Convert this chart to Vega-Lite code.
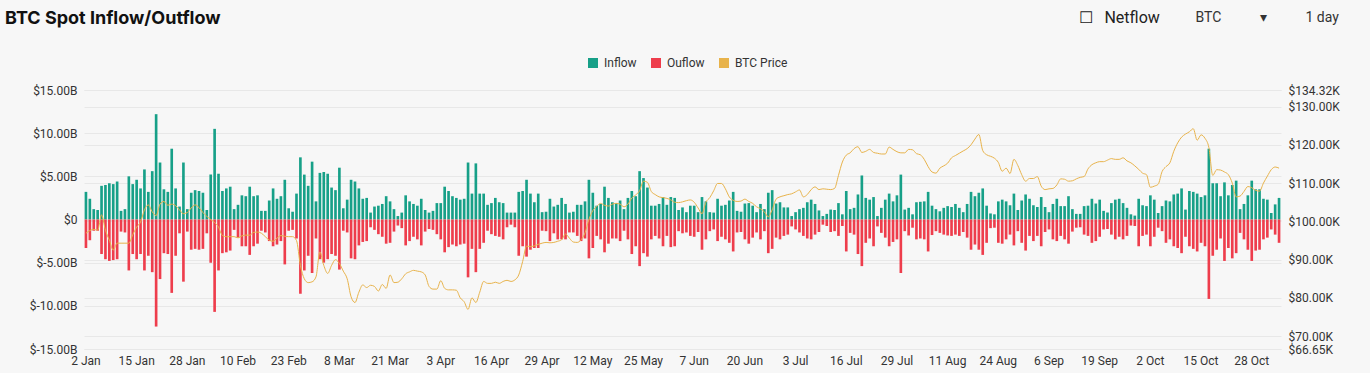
{
  "$schema": "https://vega.github.io/schema/vega-lite/v6.json",
  "autosize": "none",
  "width": 1197,
  "height": 259,
  "padding": {"left": 84, "top": 90, "right": 89, "bottom": 24},
  "background": "#f7f7f7",
  "config": {"view": {"stroke": null}, "font": "Roboto"},
  "title": {"text": "BTC Spot Inflow/Outflow", "anchor": "start", "frame": "group", "dx": -79, "dy": 19, "font": "Inter", "fontSize": 18, "fontWeight": 700, "color": "#111111", "offset": 0},
  "data": {"values": [
{"date":"2025-01-02","inflow":3.2,"outflow":-3.3,"price_k":96.9},
{"date":"2025-01-03","inflow":2.4,"outflow":-2.4,"price_k":97.6},
{"date":"2025-01-04","inflow":1.2,"outflow":-1.3,"price_k":97.9},
{"date":"2025-01-05","inflow":1.1,"outflow":-1.3,"price_k":97.7},
{"date":"2025-01-06","inflow":3.9,"outflow":-4.0,"price_k":101.7},
{"date":"2025-01-07","inflow":4.0,"outflow":-4.6,"price_k":97.7},
{"date":"2025-01-08","inflow":4.2,"outflow":-4.8,"price_k":95.1},
{"date":"2025-01-09","inflow":4.1,"outflow":-4.7,"price_k":92.5},
{"date":"2025-01-10","inflow":4.4,"outflow":-4.6,"price_k":94.3},
{"date":"2025-01-11","inflow":1.0,"outflow":-1.4,"price_k":94.3},
{"date":"2025-01-12","inflow":1.2,"outflow":-1.5,"price_k":94.3},
{"date":"2025-01-13","inflow":5.0,"outflow":-5.9,"price_k":94.3},
{"date":"2025-01-14","inflow":4.1,"outflow":-4.0,"price_k":96.5},
{"date":"2025-01-15","inflow":4.6,"outflow":-4.6,"price_k":98.5},
{"date":"2025-01-16","inflow":3.6,"outflow":-4.0,"price_k":99.8},
{"date":"2025-01-17","inflow":5.8,"outflow":-5.9,"price_k":103.0},
{"date":"2025-01-18","inflow":3.2,"outflow":-4.2,"price_k":104.3},
{"date":"2025-01-19","inflow":5.6,"outflow":-6.1,"price_k":102.5},
{"date":"2025-01-20","inflow":12.2,"outflow":-12.4,"price_k":101.5},
{"date":"2025-01-21","inflow":6.6,"outflow":-6.9,"price_k":104.5},
{"date":"2025-01-22","inflow":3.5,"outflow":-3.9,"price_k":105.2},
{"date":"2025-01-23","inflow":3.2,"outflow":-4.0,"price_k":104.2},
{"date":"2025-01-24","inflow":8.2,"outflow":-8.5,"price_k":104.5},
{"date":"2025-01-25","inflow":3.6,"outflow":-4.2,"price_k":104.1},
{"date":"2025-01-26","inflow":1.5,"outflow":-1.6,"price_k":103.0},
{"date":"2025-01-27","inflow":6.6,"outflow":-7.2,"price_k":102.0},
{"date":"2025-01-28","inflow":1.2,"outflow":-1.4,"price_k":102.3},
{"date":"2025-01-29","inflow":3.1,"outflow":-3.5,"price_k":103.5},
{"date":"2025-01-30","inflow":3.4,"outflow":-3.4,"price_k":104.3},
{"date":"2025-01-31","inflow":3.3,"outflow":-3.5,"price_k":103.6},
{"date":"2025-02-01","inflow":3.1,"outflow":-3.4,"price_k":102.3},
{"date":"2025-02-02","inflow":1.1,"outflow":-1.6,"price_k":101.3},
{"date":"2025-02-03","inflow":5.2,"outflow":-5.0,"price_k":100.5},
{"date":"2025-02-04","inflow":10.5,"outflow":-10.7,"price_k":99.7},
{"date":"2025-02-05","inflow":5.3,"outflow":-5.9,"price_k":98.5},
{"date":"2025-02-06","inflow":3.3,"outflow":-3.9,"price_k":96.3},
{"date":"2025-02-07","inflow":3.6,"outflow":-3.8,"price_k":96.0},
{"date":"2025-02-08","inflow":3.8,"outflow":-3.6,"price_k":96.0},
{"date":"2025-02-09","inflow":1.2,"outflow":-1.2,"price_k":96.0},
{"date":"2025-02-10","inflow":1.7,"outflow":-2.1,"price_k":95.7},
{"date":"2025-02-11","inflow":2.8,"outflow":-3.1,"price_k":96.2},
{"date":"2025-02-12","inflow":2.7,"outflow":-3.1,"price_k":96.4},
{"date":"2025-02-13","inflow":3.8,"outflow":-4.1,"price_k":96.4},
{"date":"2025-02-14","inflow":2.7,"outflow":-3.1,"price_k":97.1},
{"date":"2025-02-15","inflow":2.8,"outflow":-2.8,"price_k":97.2},
{"date":"2025-02-16","inflow":1.0,"outflow":-1.3,"price_k":96.9},
{"date":"2025-02-17","inflow":1.0,"outflow":-1.5,"price_k":96.0},
{"date":"2025-02-18","inflow":2.2,"outflow":-2.5,"price_k":95.1},
{"date":"2025-02-19","inflow":3.6,"outflow":-3.1,"price_k":94.8},
{"date":"2025-02-20","inflow":2.4,"outflow":-2.9,"price_k":95.6},
{"date":"2025-02-21","inflow":2.7,"outflow":-2.5,"price_k":96.3},
{"date":"2025-02-22","inflow":4.6,"outflow":-5.2,"price_k":96.1},
{"date":"2025-02-23","inflow":1.3,"outflow":-1.3,"price_k":96.0},
{"date":"2025-02-24","inflow":0.9,"outflow":-1.2,"price_k":96.0},
{"date":"2025-02-25","inflow":3.0,"outflow":-2.2,"price_k":95.0},
{"date":"2025-02-26","inflow":7.2,"outflow":-8.6,"price_k":88.5},
{"date":"2025-02-27","inflow":5.2,"outflow":-5.9,"price_k":85.0},
{"date":"2025-02-28","inflow":3.9,"outflow":-4.2,"price_k":84.0},
{"date":"2025-03-01","inflow":6.7,"outflow":-6.2,"price_k":84.2},
{"date":"2025-03-02","inflow":2.1,"outflow":-2.2,"price_k":85.5},
{"date":"2025-03-03","inflow":5.4,"outflow":-4.6,"price_k":92.0},
{"date":"2025-03-04","inflow":5.5,"outflow":-5.0,"price_k":88.5},
{"date":"2025-03-05","inflow":5.3,"outflow":-4.6,"price_k":86.4},
{"date":"2025-03-06","inflow":3.7,"outflow":-4.0,"price_k":88.5},
{"date":"2025-03-07","inflow":3.4,"outflow":-4.2,"price_k":90.0},
{"date":"2025-03-08","inflow":6.0,"outflow":-5.8,"price_k":89.0},
{"date":"2025-03-09","inflow":1.3,"outflow":-1.3,"price_k":87.0},
{"date":"2025-03-10","inflow":2.3,"outflow":-1.5,"price_k":85.0},
{"date":"2025-03-11","inflow":4.6,"outflow":-4.5,"price_k":80.3},
{"date":"2025-03-12","inflow":4.4,"outflow":-4.6,"price_k":78.8},
{"date":"2025-03-13","inflow":3.6,"outflow":-3.0,"price_k":81.5},
{"date":"2025-03-14","inflow":2.4,"outflow":-2.6,"price_k":83.4},
{"date":"2025-03-15","inflow":2.5,"outflow":-2.5,"price_k":82.7},
{"date":"2025-03-16","inflow":0.8,"outflow":-0.9,"price_k":83.3},
{"date":"2025-03-17","inflow":1.5,"outflow":-1.2,"price_k":83.0},
{"date":"2025-03-18","inflow":1.6,"outflow":-1.7,"price_k":81.8},
{"date":"2025-03-19","inflow":1.8,"outflow":-2.0,"price_k":83.5},
{"date":"2025-03-20","inflow":2.7,"outflow":-2.8,"price_k":82.5},
{"date":"2025-03-21","inflow":2.1,"outflow":-2.7,"price_k":86.0},
{"date":"2025-03-22","inflow":1.2,"outflow":-1.4,"price_k":84.0},
{"date":"2025-03-23","inflow":0.4,"outflow":-0.7,"price_k":84.1},
{"date":"2025-03-24","inflow":0.8,"outflow":-1.0,"price_k":85.0},
{"date":"2025-03-25","inflow":2.8,"outflow":-3.0,"price_k":86.3},
{"date":"2025-03-26","inflow":2.1,"outflow":-2.5,"price_k":86.8},
{"date":"2025-03-27","inflow":1.8,"outflow":-2.0,"price_k":87.2},
{"date":"2025-03-28","inflow":1.6,"outflow":-2.3,"price_k":87.0},
{"date":"2025-03-29","inflow":2.4,"outflow":-3.0,"price_k":86.8},
{"date":"2025-03-30","inflow":1.1,"outflow":-1.4,"price_k":86.0},
{"date":"2025-03-31","inflow":0.8,"outflow":-1.1,"price_k":83.0},
{"date":"2025-04-01","inflow":1.0,"outflow":-1.2,"price_k":82.3},
{"date":"2025-04-02","inflow":1.9,"outflow":-1.7,"price_k":82.3},
{"date":"2025-04-03","inflow":1.9,"outflow":-2.3,"price_k":84.5},
{"date":"2025-04-04","inflow":3.8,"outflow":-3.8,"price_k":82.5},
{"date":"2025-04-05","inflow":3.3,"outflow":-3.2,"price_k":82.1},
{"date":"2025-04-06","inflow":2.7,"outflow":-2.9,"price_k":82.1},
{"date":"2025-04-07","inflow":2.5,"outflow":-3.1,"price_k":82.0},
{"date":"2025-04-08","inflow":2.3,"outflow":-2.9,"price_k":80.0},
{"date":"2025-04-09","inflow":2.4,"outflow":-2.8,"price_k":79.0},
{"date":"2025-04-10","inflow":6.6,"outflow":-6.7,"price_k":77.0},
{"date":"2025-04-11","inflow":3.0,"outflow":-3.4,"price_k":80.0},
{"date":"2025-04-12","inflow":6.5,"outflow":-6.1,"price_k":78.8},
{"date":"2025-04-13","inflow":3.0,"outflow":-3.4,"price_k":81.5},
{"date":"2025-04-14","inflow":3.0,"outflow":-2.7,"price_k":84.3},
{"date":"2025-04-15","inflow":1.7,"outflow":-1.3,"price_k":83.8},
{"date":"2025-04-16","inflow":1.9,"outflow":-1.7,"price_k":83.8},
{"date":"2025-04-17","inflow":2.5,"outflow":-1.9,"price_k":84.1},
{"date":"2025-04-18","inflow":2.0,"outflow":-2.0,"price_k":83.8},
{"date":"2025-04-19","inflow":1.9,"outflow":-2.3,"price_k":84.3},
{"date":"2025-04-20","inflow":0.8,"outflow":-0.9,"price_k":84.6},
{"date":"2025-04-21","inflow":0.8,"outflow":-0.6,"price_k":84.3},
{"date":"2025-04-22","inflow":0.8,"outflow":-0.9,"price_k":84.7},
{"date":"2025-04-23","inflow":3.2,"outflow":-4.2,"price_k":86.0},
{"date":"2025-04-24","inflow":3.3,"outflow":-3.1,"price_k":89.5},
{"date":"2025-04-25","inflow":4.6,"outflow":-4.3,"price_k":93.5},
{"date":"2025-04-26","inflow":3.0,"outflow":-3.5,"price_k":93.4},
{"date":"2025-04-27","inflow":2.0,"outflow":-3.3,"price_k":93.6},
{"date":"2025-04-28","inflow":3.0,"outflow":-3.3,"price_k":94.0},
{"date":"2025-04-29","inflow":0.85,"outflow":-1.3,"price_k":94.3},
{"date":"2025-04-30","inflow":0.9,"outflow":-1.35,"price_k":94.5},
{"date":"2025-05-01","inflow":2.4,"outflow":-2.5,"price_k":94.4},
{"date":"2025-05-02","inflow":1.5,"outflow":-1.6,"price_k":94.5},
{"date":"2025-05-03","inflow":1.7,"outflow":-2.3,"price_k":94.8},
{"date":"2025-05-04","inflow":2.5,"outflow":-2.3,"price_k":95.2},
{"date":"2025-05-05","inflow":1.8,"outflow":-2.3,"price_k":96.7},
{"date":"2025-05-06","inflow":0.8,"outflow":-1.5,"price_k":95.6},
{"date":"2025-05-07","inflow":0.9,"outflow":-1.5,"price_k":94.6},
{"date":"2025-05-08","inflow":1.7,"outflow":-1.9,"price_k":94.5},
{"date":"2025-05-09","inflow":1.7,"outflow":-2.5,"price_k":95.2},
{"date":"2025-05-10","inflow":2.1,"outflow":-2.2,"price_k":97.0},
{"date":"2025-05-11","inflow":4.6,"outflow":-4.5,"price_k":100.5},
{"date":"2025-05-12","inflow":3.1,"outflow":-3.3,"price_k":102.8},
{"date":"2025-05-13","inflow":1.6,"outflow":-1.9,"price_k":103.9},
{"date":"2025-05-14","inflow":1.8,"outflow":-2.3,"price_k":104.7},
{"date":"2025-05-15","inflow":3.8,"outflow":-3.8,"price_k":104.2},
{"date":"2025-05-16","inflow":2.5,"outflow":-2.8,"price_k":104.0},
{"date":"2025-05-17","inflow":2.0,"outflow":-2.2,"price_k":104.5},
{"date":"2025-05-18","inflow":1.9,"outflow":-2.2,"price_k":104.7},
{"date":"2025-05-19","inflow":2.2,"outflow":-2.5,"price_k":104.5},
{"date":"2025-05-20","inflow":1.2,"outflow":-1.3,"price_k":103.8},
{"date":"2025-05-21","inflow":2.5,"outflow":-2.3,"price_k":104.5},
{"date":"2025-05-22","inflow":3.3,"outflow":-4.0,"price_k":106.1},
{"date":"2025-05-23","inflow":2.7,"outflow":-3.1,"price_k":106.9},
{"date":"2025-05-24","inflow":5.6,"outflow":-5.4,"price_k":108.0},
{"date":"2025-05-25","inflow":4.8,"outflow":-3.9,"price_k":110.5},
{"date":"2025-05-26","inflow":3.7,"outflow":-4.3,"price_k":110.2},
{"date":"2025-05-27","inflow":1.6,"outflow":-2.3,"price_k":107.8},
{"date":"2025-05-28","inflow":1.6,"outflow":-1.9,"price_k":107.0},
{"date":"2025-05-29","inflow":1.8,"outflow":-2.2,"price_k":106.4},
{"date":"2025-05-30","inflow":2.6,"outflow":-3.1,"price_k":106.2},
{"date":"2025-05-31","inflow":1.7,"outflow":-1.9,"price_k":106.0},
{"date":"2025-06-01","inflow":2.6,"outflow":-3.2,"price_k":105.6},
{"date":"2025-06-02","inflow":2.5,"outflow":-3.1,"price_k":105.0},
{"date":"2025-06-03","inflow":1.1,"outflow":-1.35,"price_k":104.9},
{"date":"2025-06-04","inflow":1.4,"outflow":-1.6,"price_k":105.1},
{"date":"2025-06-05","inflow":0.85,"outflow":-1.5,"price_k":105.4},
{"date":"2025-06-06","inflow":1.6,"outflow":-1.9,"price_k":105.6},
{"date":"2025-06-07","inflow":1.6,"outflow":-2.0,"price_k":105.0},
{"date":"2025-06-08","inflow":0.85,"outflow":-1.45,"price_k":103.5},
{"date":"2025-06-09","inflow":2.6,"outflow":-3.5,"price_k":102.0},
{"date":"2025-06-10","inflow":2.1,"outflow":-2.3,"price_k":105.0},
{"date":"2025-06-11","inflow":0.85,"outflow":-1.35,"price_k":106.2},
{"date":"2025-06-12","inflow":0.8,"outflow":-1.15,"price_k":108.0},
{"date":"2025-06-13","inflow":2.4,"outflow":-2.5,"price_k":109.9},
{"date":"2025-06-14","inflow":1.6,"outflow":-2.0,"price_k":109.9},
{"date":"2025-06-15","inflow":1.7,"outflow":-2.3,"price_k":108.5},
{"date":"2025-06-16","inflow":2.2,"outflow":-2.7,"price_k":106.4},
{"date":"2025-06-17","inflow":3.2,"outflow":-3.7,"price_k":105.5},
{"date":"2025-06-18","inflow":1.0,"outflow":-1.5,"price_k":105.2},
{"date":"2025-06-19","inflow":0.9,"outflow":-1.45,"price_k":105.3},
{"date":"2025-06-20","inflow":1.85,"outflow":-2.3,"price_k":105.8},
{"date":"2025-06-21","inflow":1.9,"outflow":-2.8,"price_k":105.2},
{"date":"2025-06-22","inflow":1.6,"outflow":-2.1,"price_k":104.7},
{"date":"2025-06-23","inflow":0.85,"outflow":-1.5,"price_k":103.8},
{"date":"2025-06-24","inflow":1.8,"outflow":-2.3,"price_k":103.3},
{"date":"2025-06-25","inflow":1.2,"outflow":-1.35,"price_k":102.5},
{"date":"2025-06-26","inflow":3.1,"outflow":-3.9,"price_k":101.2},
{"date":"2025-06-27","inflow":3.4,"outflow":-3.4,"price_k":103.0},
{"date":"2025-06-28","inflow":1.85,"outflow":-2.1,"price_k":105.8},
{"date":"2025-06-29","inflow":2.0,"outflow":-2.3,"price_k":106.4},
{"date":"2025-06-30","inflow":1.4,"outflow":-1.9,"price_k":106.7},
{"date":"2025-07-01","inflow":1.4,"outflow":-1.75,"price_k":107.0},
{"date":"2025-07-02","inflow":0.4,"outflow":-0.8,"price_k":107.2},
{"date":"2025-07-03","inflow":0.85,"outflow":-1.15,"price_k":107.7},
{"date":"2025-07-04","inflow":1.2,"outflow":-1.5,"price_k":108.2},
{"date":"2025-07-05","inflow":1.35,"outflow":-1.9,"price_k":106.4},
{"date":"2025-07-06","inflow":2.0,"outflow":-2.2,"price_k":107.0},
{"date":"2025-07-07","inflow":2.3,"outflow":-2.3,"price_k":108.3},
{"date":"2025-07-08","inflow":1.8,"outflow":-1.75,"price_k":109.0},
{"date":"2025-07-09","inflow":1.05,"outflow":-1.45,"price_k":108.3},
{"date":"2025-07-10","inflow":0.4,"outflow":-0.6,"price_k":108.5},
{"date":"2025-07-11","inflow":0.65,"outflow":-0.75,"price_k":108.4},
{"date":"2025-07-12","inflow":1.15,"outflow":-1.45,"price_k":108.3},
{"date":"2025-07-13","inflow":1.1,"outflow":-1.35,"price_k":108.6},
{"date":"2025-07-14","inflow":1.9,"outflow":-1.9,"price_k":112.0},
{"date":"2025-07-15","inflow":0.6,"outflow":-0.75,"price_k":115.5},
{"date":"2025-07-16","inflow":3.3,"outflow":-3.7,"price_k":117.3},
{"date":"2025-07-17","inflow":1.2,"outflow":-1.55,"price_k":117.9},
{"date":"2025-07-18","inflow":1.35,"outflow":-1.75,"price_k":119.0},
{"date":"2025-07-19","inflow":2.9,"outflow":-4.0,"price_k":119.5},
{"date":"2025-07-20","inflow":5.1,"outflow":-5.4,"price_k":118.0},
{"date":"2025-07-21","inflow":2.5,"outflow":-2.7,"price_k":118.3},
{"date":"2025-07-22","inflow":2.3,"outflow":-2.2,"price_k":118.8},
{"date":"2025-07-23","inflow":2.6,"outflow":-3.1,"price_k":118.0},
{"date":"2025-07-24","inflow":0.4,"outflow":-0.8,"price_k":117.8},
{"date":"2025-07-25","inflow":1.35,"outflow":-1.55,"price_k":117.6},
{"date":"2025-07-26","inflow":2.3,"outflow":-2.1,"price_k":117.6},
{"date":"2025-07-27","inflow":3.0,"outflow":-3.1,"price_k":119.4},
{"date":"2025-07-28","inflow":2.1,"outflow":-2.6,"price_k":118.8},
{"date":"2025-07-29","inflow":2.8,"outflow":-2.3,"price_k":118.2},
{"date":"2025-07-30","inflow":5.2,"outflow":-6.2,"price_k":117.9},
{"date":"2025-07-31","inflow":1.15,"outflow":-1.35,"price_k":117.9},
{"date":"2025-08-01","inflow":1.35,"outflow":-1.85,"price_k":118.8},
{"date":"2025-08-02","inflow":0.6,"outflow":-0.95,"price_k":118.7},
{"date":"2025-08-03","inflow":2.0,"outflow":-2.3,"price_k":117.7},
{"date":"2025-08-04","inflow":2.05,"outflow":-2.2,"price_k":117.4},
{"date":"2025-08-05","inflow":2.1,"outflow":-2.3,"price_k":116.2},
{"date":"2025-08-06","inflow":3.2,"outflow":-3.7,"price_k":114.3},
{"date":"2025-08-07","inflow":1.6,"outflow":-1.8,"price_k":112.9},
{"date":"2025-08-08","inflow":1.2,"outflow":-1.35,"price_k":112.6},
{"date":"2025-08-09","inflow":0.95,"outflow":-1.55,"price_k":113.9},
{"date":"2025-08-10","inflow":1.35,"outflow":-1.75,"price_k":114.5},
{"date":"2025-08-11","inflow":1.55,"outflow":-1.85,"price_k":115.2},
{"date":"2025-08-12","inflow":1.45,"outflow":-1.9,"price_k":116.6},
{"date":"2025-08-13","inflow":1.8,"outflow":-1.75,"price_k":117.2},
{"date":"2025-08-14","inflow":1.35,"outflow":-1.9,"price_k":117.8},
{"date":"2025-08-15","inflow":0.85,"outflow":-1.45,"price_k":118.4},
{"date":"2025-08-16","inflow":1.8,"outflow":-2.1,"price_k":119.0},
{"date":"2025-08-17","inflow":3.2,"outflow":-3.5,"price_k":120.0},
{"date":"2025-08-18","inflow":2.7,"outflow":-2.9,"price_k":121.5},
{"date":"2025-08-19","inflow":3.1,"outflow":-3.5,"price_k":122.7},
{"date":"2025-08-20","inflow":3.6,"outflow":-4.1,"price_k":118.5},
{"date":"2025-08-21","inflow":1.6,"outflow":-2.7,"price_k":117.4},
{"date":"2025-08-22","inflow":0.7,"outflow":-1.0,"price_k":117.0},
{"date":"2025-08-23","inflow":0.6,"outflow":-0.95,"price_k":116.5},
{"date":"2025-08-24","inflow":2.1,"outflow":-2.7,"price_k":115.4},
{"date":"2025-08-25","inflow":2.3,"outflow":-2.8,"price_k":113.1},
{"date":"2025-08-26","inflow":2.1,"outflow":-2.3,"price_k":113.9},
{"date":"2025-08-27","inflow":1.65,"outflow":-1.75,"price_k":112.5},
{"date":"2025-08-28","inflow":3.0,"outflow":-3.0,"price_k":116.2},
{"date":"2025-08-29","inflow":1.1,"outflow":-1.35,"price_k":114.6},
{"date":"2025-08-30","inflow":2.2,"outflow":-2.7,"price_k":112.2},
{"date":"2025-08-31","inflow":2.9,"outflow":-3.6,"price_k":110.5},
{"date":"2025-09-01","inflow":2.4,"outflow":-1.9,"price_k":111.2},
{"date":"2025-09-02","inflow":1.65,"outflow":-2.5,"price_k":111.2},
{"date":"2025-09-03","inflow":1.45,"outflow":-1.9,"price_k":111.7},
{"date":"2025-09-04","inflow":2.6,"outflow":-3.1,"price_k":109.2},
{"date":"2025-09-05","inflow":1.45,"outflow":-1.45,"price_k":108.3},
{"date":"2025-09-06","inflow":0.85,"outflow":-1.15,"price_k":108.5},
{"date":"2025-09-07","inflow":1.8,"outflow":-2.3,"price_k":108.6},
{"date":"2025-09-08","inflow":2.4,"outflow":-2.5,"price_k":109.5},
{"date":"2025-09-09","inflow":1.55,"outflow":-1.9,"price_k":111.1},
{"date":"2025-09-10","inflow":1.55,"outflow":-2.3,"price_k":111.0},
{"date":"2025-09-11","inflow":2.7,"outflow":-2.8,"price_k":110.5},
{"date":"2025-09-12","inflow":1.2,"outflow":-1.4,"price_k":110.6},
{"date":"2025-09-13","inflow":0.65,"outflow":-0.95,"price_k":111.1},
{"date":"2025-09-14","inflow":0.65,"outflow":-0.9,"price_k":111.5},
{"date":"2025-09-15","inflow":1.55,"outflow":-1.75,"price_k":111.7},
{"date":"2025-09-16","inflow":1.6,"outflow":-1.9,"price_k":113.7},
{"date":"2025-09-17","inflow":2.4,"outflow":-2.7,"price_k":114.8},
{"date":"2025-09-18","inflow":1.85,"outflow":-2.5,"price_k":115.3},
{"date":"2025-09-19","inflow":2.3,"outflow":-2.0,"price_k":115.6},
{"date":"2025-09-20","inflow":1.0,"outflow":-1.15,"price_k":115.6},
{"date":"2025-09-21","inflow":0.8,"outflow":-1.1,"price_k":116.0},
{"date":"2025-09-22","inflow":1.9,"outflow":-1.75,"price_k":116.4},
{"date":"2025-09-23","inflow":2.3,"outflow":-2.3,"price_k":116.2},
{"date":"2025-09-24","inflow":2.4,"outflow":-2.0,"price_k":116.2},
{"date":"2025-09-25","inflow":1.9,"outflow":-2.3,"price_k":116.6},
{"date":"2025-09-26","inflow":1.35,"outflow":-1.9,"price_k":115.8},
{"date":"2025-09-27","inflow":0.6,"outflow":-0.7,"price_k":115.3},
{"date":"2025-09-28","inflow":0.45,"outflow":-0.75,"price_k":114.5},
{"date":"2025-09-29","inflow":2.4,"outflow":-3.1,"price_k":113.6},
{"date":"2025-09-30","inflow":1.65,"outflow":-1.9,"price_k":112.6},
{"date":"2025-10-01","inflow":1.55,"outflow":-1.75,"price_k":112.2},
{"date":"2025-10-02","inflow":2.8,"outflow":-3.1,"price_k":108.9},
{"date":"2025-10-03","inflow":2.3,"outflow":-2.0,"price_k":109.2},
{"date":"2025-10-04","inflow":0.75,"outflow":-0.95,"price_k":109.7},
{"date":"2025-10-05","inflow":1.55,"outflow":-1.35,"price_k":113.0},
{"date":"2025-10-06","inflow":2.2,"outflow":-2.7,"price_k":114.3},
{"date":"2025-10-07","inflow":2.1,"outflow":-2.3,"price_k":115.3},
{"date":"2025-10-08","inflow":2.9,"outflow":-3.1,"price_k":118.3},
{"date":"2025-10-09","inflow":3.0,"outflow":-3.3,"price_k":120.5},
{"date":"2025-10-10","inflow":3.6,"outflow":-3.9,"price_k":122.0},
{"date":"2025-10-11","inflow":1.15,"outflow":-2.0,"price_k":122.8},
{"date":"2025-10-12","inflow":3.3,"outflow":-3.1,"price_k":123.4},
{"date":"2025-10-13","inflow":3.2,"outflow":-3.4,"price_k":124.2},
{"date":"2025-10-14","inflow":3.0,"outflow":-3.7,"price_k":121.2},
{"date":"2025-10-15","inflow":2.6,"outflow":-2.7,"price_k":122.6},
{"date":"2025-10-16","inflow":2.8,"outflow":-3.1,"price_k":121.7},
{"date":"2025-10-17","inflow":8.2,"outflow":-9.2,"price_k":119.3},
{"date":"2025-10-18","inflow":4.2,"outflow":-4.2,"price_k":112.0},
{"date":"2025-10-19","inflow":4.2,"outflow":-3.5,"price_k":113.5},
{"date":"2025-10-20","inflow":2.7,"outflow":-2.2,"price_k":113.4},
{"date":"2025-10-21","inflow":4.3,"outflow":-4.8,"price_k":112.9},
{"date":"2025-10-22","inflow":2.8,"outflow":-3.3,"price_k":112.2},
{"date":"2025-10-23","inflow":4.0,"outflow":-4.5,"price_k":110.0},
{"date":"2025-10-24","inflow":4.5,"outflow":-3.9,"price_k":106.4},
{"date":"2025-10-25","inflow":1.2,"outflow":-1.55,"price_k":106.6},
{"date":"2025-10-26","inflow":1.8,"outflow":-2.3,"price_k":107.8},
{"date":"2025-10-27","inflow":2.8,"outflow":-3.5,"price_k":109.1},
{"date":"2025-10-28","inflow":4.5,"outflow":-4.8,"price_k":108.8},
{"date":"2025-10-29","inflow":3.5,"outflow":-3.6,"price_k":108.1},
{"date":"2025-10-30","inflow":3.5,"outflow":-3.5,"price_k":107.9},
{"date":"2025-10-31","inflow":2.4,"outflow":-2.3,"price_k":110.0},
{"date":"2025-11-01","inflow":2.3,"outflow":-2.1,"price_k":111.8},
{"date":"2025-11-02","inflow":0.75,"outflow":-1.15,"price_k":113.5},
{"date":"2025-11-03","inflow":1.75,"outflow":-1.75,"price_k":114.2},
{"date":"2025-11-04","inflow":2.5,"outflow":-2.7,"price_k":113.9}
  ]},
  "encoding": {
    "x": {
      "field": "date", "type": "ordinal", "sort": null,
      "scale": {"paddingInner": 0.32, "paddingOuter": 0.16},
      "axis": {
        "values": ["2025-01-02","2025-01-15","2025-01-28","2025-02-10","2025-02-23","2025-03-08","2025-03-21","2025-04-03","2025-04-16","2025-04-29","2025-05-12","2025-05-25","2025-06-07","2025-06-20","2025-07-03","2025-07-16","2025-07-29","2025-08-11","2025-08-24","2025-09-06","2025-09-19","2025-10-02","2025-10-15","2025-10-28"],
        "labelExpr": "utcFormat(toDate(datum.value), '%-d %b')",
        "labelAngle": 0, "ticks": false, "domain": false, "grid": false,
        "labelFontSize": 12, "labelColor": "#333333", "labelPadding": 6, "labelOverlap": false, "labelFlush": false,
        "title": "1 day", "titleX": 1221, "titleY": -332, "titleAlign": "left", "titleBaseline": "middle",
        "titleFontSize": 14, "titleFontWeight": "normal", "titleColor": "#333333", "titleFont": "Roboto"
      }
    }
  },
  "layer": [
    {
      "transform": [{"fold": ["inflow", "outflow"], "as": ["series", "value"]}],
      "mark": {"type": "bar"},
      "encoding": {
        "y": {
          "field": "value", "type": "quantitative",
          "scale": {"domain": [-15, 15], "nice": false},
          "axis": {
            "values": [-15, -10, -5, 0, 5, 10, 15],
            "labelExpr": "datum.value == 0 ? '$0' : '$' + (datum.value < 0 ? '-' : '') + format(abs(datum.value), '.2f') + 'B'",
            "grid": true, "gridColor": "#e8e8e8", "ticks": false, "domain": false,
            "labelFontSize": 12, "labelColor": "#333333", "labelPadding": 7, "labelOverlap": false, "labelFlush": false,
            "title": "BTC\u00a0\u00a0\u00a0\u00a0\u00a0\u00a0\u00a0\u00a0\u00a0\u00a0\u00a0\u25be", "titleX": 1111, "titleY": -73, "titleAngle": 0, "titleAlign": "left", "titleBaseline": "middle",
            "titleFontSize": 14, "titleFontWeight": "normal", "titleColor": "#333333", "titleFont": "Roboto"
          }
        },
        "color": {
          "field": "series", "type": "nominal",
          "scale": {"domain": ["inflow", "outflow", "price_k"], "range": ["#17a088", "#ee3d4c", "#e8b34b"]},
          "legend": {
            "orient": "none", "legendX": 503, "legendY": -33, "direction": "horizontal", "title": null,
            "labelExpr": "datum.label == 'inflow' ? 'Inflow' : datum.label == 'outflow' ? 'Ouflow' : 'BTC Price'",
            "symbolType": "square", "symbolSize": 100, "symbolStrokeWidth": 0, "symbolOpacity": 1,
            "labelFontSize": 12, "labelColor": "#333333", "labelFont": "Roboto", "columnPadding": 13, "labelOffset": 5, "padding": 0,
            "encode": {"symbols": {"update": {"fill": {"scale": "color", "field": "value"}, "shape": {"value": "square"}}}}
          }
        }
      }
    },
    {
      "mark": {"type": "line", "strokeWidth": 1, "interpolate": "monotone"},
      "encoding": {
        "y": {
          "field": "price_k", "type": "quantitative",
          "scale": {"domain": [66.65, 134.32], "nice": false, "zero": false},
          "axis": {
            "orient": "right",
            "values": [66.65, 70, 80, 90, 100, 110, 120, 130, 134.32],
            "labelExpr": "'$' + format(datum.value, '.2f') + 'K'",
            "grid": true, "gridColor": "#e8e8e8", "ticks": false, "domain": false,
            "labelFontSize": 12, "labelColor": "#333333", "labelPadding": 7, "labelOverlap": false, "labelFlush": false,
            "title": "\u2610\u00a0\u00a0\u00a0Netflow", "titleX": -203, "titleY": -73, "titleAngle": 0, "titleAlign": "left", "titleBaseline": "middle",
            "titleFontSize": 16, "titleFontWeight": "normal", "titleColor": "#222222", "titleFont": "Roboto"
          }
        },
        "color": {"datum": "price_k", "type": "nominal"}
      }
    }
  ],
  "resolve": {"scale": {"y": "independent"}}
}
